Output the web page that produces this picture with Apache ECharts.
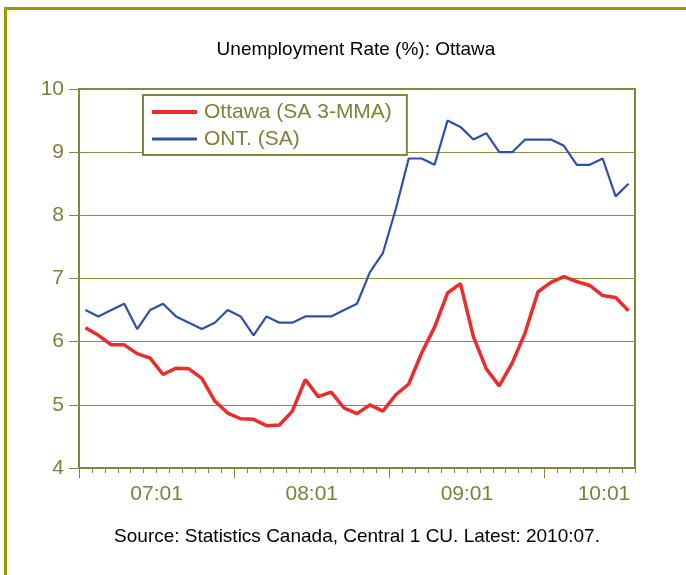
<!DOCTYPE html>
<html>
<head>
<meta charset="utf-8">
<script src="https://cdn.jsdelivr.net/npm/echarts@6/dist/echarts.min.js"></script>
<style>
html,body{margin:0;padding:0;background:#fff;}
#chart{width:686px;height:575px;}
</style>
</head>
<body>
<div id="chart"></div>
<script>
const months = ['2007:01','2007:02','2007:03','2007:04','2007:05','2007:06','2007:07','2007:08','2007:09','2007:10','2007:11','2007:12',
'2008:01','2008:02','2008:03','2008:04','2008:05','2008:06','2008:07','2008:08','2008:09','2008:10','2008:11','2008:12',
'2009:01','2009:02','2009:03','2009:04','2009:05','2009:06','2009:07','2009:08','2009:09','2009:10','2009:11','2009:12',
'2010:01','2010:02','2010:03','2010:04','2010:05','2010:06','2010:07'];
const ottawa = [6.22,6.1,5.95,5.95,5.81,5.74,5.48,5.58,5.57,5.42,5.06,4.87,
4.78,4.77,4.67,4.68,4.9,5.4,5.13,5.2,4.95,4.86,5.0,4.9,
5.16,5.33,5.82,6.23,6.77,6.92,6.08,5.57,5.3,5.66,6.14,6.79,
6.94,7.03,6.95,6.89,6.73,6.7,6.49];
const ontario = [6.5,6.4,6.5,6.6,6.2,6.5,6.6,6.4,6.3,6.2,6.3,6.5,
6.4,6.1,6.4,6.3,6.3,6.4,6.4,6.4,6.5,6.6,7.1,7.4,
8.1,8.9,8.9,8.8,9.5,9.4,9.2,9.3,9.0,9.0,9.2,9.2,
9.2,9.1,8.8,8.8,8.9,8.3,8.5];
const yearLabels = ['07:01','08:01','09:01','10:01'];
const seriesNames = ['Ottawa (SA 3-MMA)','ONT. (SA)'];
const titleText = 'Unemployment Rate (%): Ottawa';
const sourceText = 'Source: Statistics Canada, Central 1 CU. Latest: 2010:07.';

const olive = '#84843e';
const oliveText = '#7f7f3a';
const font = 'Liberation Sans, Arial, sans-serif';
const red = '#ee2b2b';
const blue = '#3050a4';

const chart = echarts.init(document.getElementById('chart'));
chart.setOption({
  animation: false,
  backgroundColor: '#fff',
  grid: { left: 79, top: 89, right: 51, bottom: 107, show: true, borderColor: olive, borderWidth: 2, containLabel: false },
  graphic: [
    { type: 'rect', left: 3, top: 6, shape: { width: 720, height: 620 }, style: { fill: 'none', stroke: '#999900', lineWidth: 3 }, silent: true },
    { type: 'text', x: 356, y: 50, style: { text: titleText, fontSize: 19, fontFamily: font, fill: '#000', textAlign: 'center', textVerticalAlign: 'middle' } },
    { type: 'text', x: 357, y: 537, style: { text: sourceText, fontSize: 19, fontFamily: font, fill: '#000', textAlign: 'center', textVerticalAlign: 'middle' } }
  ],
  legend: {
    orient: 'vertical', left: 143, top: 95,
    backgroundColor: '#fff', borderColor: olive, borderWidth: 2,
    padding: [6, 15, 5, 9], itemGap: 5, itemWidth: 45, itemHeight: 4,
    textStyle: { color: oliveText, fontSize: 21, fontFamily: font, lineHeight: 22, padding: [0,0,0,2] },
    data: [
      { name: seriesNames[0], icon: 'rect', itemStyle: { color: red } },
      { name: seriesNames[1], icon: 'path://M0,0L45,0L45,3L0,3Z', itemStyle: { color: blue } }
    ]
  },
  xAxis: [
    {
      type: 'category', data: months, boundaryGap: true,
      axisLine: { lineStyle: { color: olive, width: 2 } },
      axisTick: { show: true, interval: 0, length: 5, lineStyle: { color: olive, width: 1 } },
      axisLabel: { show: false },
      splitLine: { show: false }
    },
    {
      type: 'value', min: 0, max: 43, position: 'bottom',
      axisLine: { show: false },
      axisTick: { show: true, length: 10, customValues: [0, 12, 24, 36], lineStyle: { color: olive, width: 1 } },
      axisLabel: { show: true, customValues: [6, 18, 30, 40.6], margin: 16, color: oliveText, fontSize: 21, fontFamily: font,
        formatter: function (v) { return yearLabels[Math.round((v - 6) / 12)]; } },
      splitLine: { show: false }
    }
  ],
  yAxis: {
    type: 'value', min: 4, max: 10, interval: 1,
    axisLine: { show: true, lineStyle: { color: olive, width: 2 } },
    axisTick: { show: true, length: 10, lineStyle: { color: olive, width: 1 } },
    axisLabel: { color: oliveText, fontSize: 21, fontFamily: font, margin: 15 },
    splitLine: { show: true, lineStyle: { color: '#8c8c46', width: 1 } }
  },
  series: [
    { name: seriesNames[0], type: 'line', data: ottawa, xAxisIndex: 0, symbol: 'none', z: 3,
      lineStyle: { color: red, width: 3.5 }, itemStyle: { color: red } },
    { name: seriesNames[1], type: 'line', data: ontario, xAxisIndex: 0, symbol: 'none', z: 2,
      lineStyle: { color: blue, width: 2.2 }, itemStyle: { color: blue } }
  ]
});
</script>
</body>
</html>
